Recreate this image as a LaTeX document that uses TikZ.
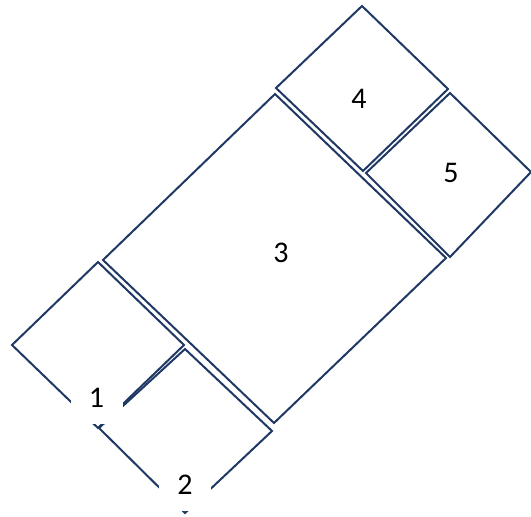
\documentclass[tikz,border=0pt]{standalone}
\usepackage{fontspec}
\setmainfont{Carlito}
\definecolor{navy}{HTML}{203864}
\tikzset{
  room/.style={draw=navy, line width=2pt, line join=miter},
  num/.style={inner sep=0pt, font=\fontsize{30}{34}\selectfont},
  lbl/.style={num, fill=white, minimum width=52pt, minimum height=52pt},
}
\begin{document}
\begin{tikzpicture}[x=1pt,y=-1pt]
\useasboundingbox (0,0) rectangle (531,517);
% room 1
\draw[room] (98,262) -- (184,345) -- (98,428) -- (12,345) -- cycle;
% room 2
\draw[room] (185,349) -- (272,431) -- (185,513) -- (99,428) -- cycle;
% room 3
\draw[room] (275,94) -- (446,258) -- (274,423) -- (103,260) -- cycle;
% room 4
\draw[room] (362,6) -- (448,89) -- (363,171) -- (276,88) -- cycle;
% room 5
\draw[room] (450,93) -- (531,172) -- (450,257) -- (366,173) -- cycle;
\node[lbl] (l1) at (96.5,398) {1};
\node[lbl] (l2) at (185,485) {2};
\node[num] (l3) at (281,253) {3};
\node[num] (l4) at (359,99) {4};
\node[num] (l5) at (451,173) {5};
\end{tikzpicture}
\end{document}
